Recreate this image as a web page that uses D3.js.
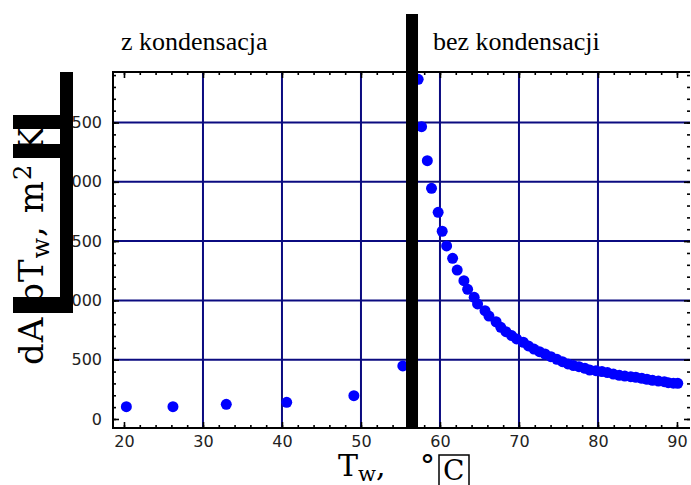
<!DOCTYPE html>
<html>
<head>
<meta charset="utf-8">
<script src="https://cdn.jsdelivr.net/npm/d3@7"></script>
<style>
  body { margin: 0; background: #fff; }
  svg { display: block; }
</style>
</head>
<body>
<div class="chart"></div>
<script>
// data
const condT = [20.3, 26.2, 32.95, 40.6, 49.1, 55.3];
const condA = [104, 104, 124, 141, 197, 447];

const dryT = [57.24, 57.67, 58.4, 58.93, 59.77, 60.28, 60.84, 61.6, 62.18, 63.03,
              63.5, 64.33, 64.76, 65.7, 66.2, 67.1, 67.7, 68.35, 69.07, 69.7,
              70.55, 71.2, 71.9, 72.6, 73.3, 74.05, 74.8, 75.5, 76.2, 76.9,
              77.6, 78.35, 78.95, 79.75, 80.5, 81.2, 81.95, 82.7, 83.4, 84.15,
              84.8, 85.55, 86.2, 86.9, 87.65, 88.4, 88.9, 89.55, 90.1];
const dryA = [2864, 2465, 2178, 1945, 1743, 1583, 1459, 1355, 1256, 1166,
              1093, 1026, 970, 913, 868, 820, 773, 736, 703, 675,
              647, 616, 590, 568, 548, 525, 503, 483, 464, 450,
              441, 427, 413, 407, 400, 391, 379, 368, 362, 357,
              352, 343, 335, 326, 320, 315, 306, 302, 301];

const xTicks = [20, 30, 40, 50, 60, 70, 80, 90];
const yTicks = [0, 500, 1000, 1500, 2000, 2500];
const xGrid = [30, 40, 50, 60, 70, 80];
const yGrid = [500, 1000, 1500, 2000, 2500];
const boundaryT = 56.46;

const labelLeft = "z kondensacja";
const labelRight = "bez kondensacji";

// Mesures
const size = { width: 691, height: 485 };
const plot = { left: 113, right: 690, top: 72, bottom: 428 };

const svg = d3.select(".chart")
              .append("svg")
              .attr("width", size.width)
              .attr("height", size.height);

const x = d3.scaleLinear().domain([18.61, 91.65]).range([plot.left, plot.right]);
const y = d3.scaleLinear().domain([-76, 2926]).range([plot.bottom, plot.top]);

const gridColor = "#0b0b80";

// grid
svg.append("g")
   .selectAll("line")
   .data(xGrid)
   .join("line")
   .attr("x1", (d) => x(d)).attr("x2", (d) => x(d))
   .attr("y1", plot.top).attr("y2", plot.bottom)
   .attr("stroke", gridColor).attr("stroke-width", 2);

svg.append("g")
   .selectAll("line")
   .data(yGrid)
   .join("line")
   .attr("x1", plot.left).attr("x2", plot.right)
   .attr("y1", (d) => y(d)).attr("y2", (d) => y(d))
   .attr("stroke", gridColor).attr("stroke-width", 2);

// axes (ticks pointing inward)
const styleAxis = (g) => {
  g.select(".domain").remove();
  g.selectAll("line").attr("stroke", "#000").attr("stroke-width", 1.6);
  g.selectAll("text")
   .attr("fill", "#222")
   .attr("font-family", "'DejaVu Sans', Verdana, sans-serif")
   .attr("font-size", 16);
};

const xMinor = d3.range(20, 92, 2);
const yMinor = d3.range(0, 2901, 100);

svg.append("g")
   .attr("transform", `translate(0,${plot.bottom})`)
   .call(d3.axisBottom(x).tickValues(xMinor).tickSize(-3).tickFormat(""))
   .call(styleAxis);
svg.append("g")
   .attr("transform", `translate(0,${plot.bottom})`)
   .call(d3.axisBottom(x).tickValues(xTicks).tickSize(-6).tickPadding(8).tickFormat(d3.format("d")))
   .call(styleAxis);
svg.append("g")
   .attr("transform", `translate(0,${plot.top})`)
   .call(d3.axisTop(x).tickValues(xMinor).tickSize(-3).tickFormat(""))
   .call(styleAxis);
svg.append("g")
   .attr("transform", `translate(0,${plot.top})`)
   .call(d3.axisTop(x).tickValues(xTicks).tickSize(-6).tickFormat(""))
   .call(styleAxis);

svg.append("g")
   .attr("transform", `translate(${plot.left},0)`)
   .call(d3.axisLeft(y).tickValues(yMinor).tickSize(-3).tickFormat(""))
   .call(styleAxis);
svg.append("g")
   .attr("transform", `translate(${plot.left},0)`)
   .call(d3.axisLeft(y).tickValues(yTicks).tickSize(-6).tickPadding(11).tickFormat(d3.format("d")))
   .call(styleAxis);
svg.append("g")
   .attr("transform", `translate(${plot.right},0)`)
   .call(d3.axisRight(y).tickValues(yMinor).tickSize(-3).tickFormat(""))
   .call(styleAxis);
svg.append("g")
   .attr("transform", `translate(${plot.right},0)`)
   .call(d3.axisRight(y).tickValues(yTicks).tickSize(-6).tickFormat(""))
   .call(styleAxis);

// frame: left, top, bottom
svg.append("path")
   .attr("d", `M${plot.right},${plot.top}H${plot.left}V${plot.bottom}H${plot.right}`)
   .attr("fill", "none")
   .attr("stroke", "#000")
   .attr("stroke-width", 2);

// points
const pts = condT.map((t, i) => ({ t: t, a: condA[i] }))
  .concat(dryT.map((t, i) => ({ t: t, a: dryA[i] })));

svg.append("g")
   .selectAll("circle")
   .data(pts)
   .join("circle")
   .attr("cx", (d) => x(d.t))
   .attr("cy", (d) => y(d.a))
   .attr("r", 5.5)
   .attr("fill", "#0000ff");

// boundary bar
svg.append("rect")
   .attr("x", x(boundaryT) - 6)
   .attr("y", 14)
   .attr("width", 12)
   .attr("height", plot.bottom - 14)
   .attr("fill", "#000");

// region labels
const serif = "'Liberation Serif', 'Times New Roman', Times, serif";
svg.append("text")
   .attr("x", 121).attr("y", 50)
   .attr("font-family", serif)
   .attr("font-size", 26)
   .text(labelLeft);
svg.append("text")
   .attr("x", 433).attr("y", 50)
   .attr("font-family", serif)
   .attr("font-size", 26)
   .text(labelRight);

// x title
const slab = "'DejaVu Serif', serif";
const xt = svg.append("text")
   .attr("x", 338).attr("y", 476)
   .attr("font-family", slab)
   .attr("font-size", 30);
xt.append("tspan").text("T");
xt.append("tspan").attr("font-size", 21).attr("dy", 5).text("w");
xt.append("tspan").attr("dy", -5).text(",");
svg.append("text")
   .attr("x", 420).attr("y", 476)
   .attr("font-family", slab)
   .attr("font-size", 30)
   .text("°");
svg.append("rect")
   .attr("x", 439).attr("y", 455)
   .attr("width", 30).attr("height", 40)
   .attr("fill", "none")
   .attr("stroke", "#000")
   .attr("stroke-width", 1.5);
svg.append("text")
   .attr("x", 443).attr("y", 480)
   .attr("font-family", slab)
   .attr("font-size", 28)
   .text("C");

// y title
const yt = svg.append("text")
   .attr("transform", "translate(43,365) rotate(-90)")
   .attr("font-family", slab)
   .attr("font-size", 34)
   .attr("letter-spacing", 1);
yt.append("tspan").text("dA bT");
yt.append("tspan").attr("font-size", 24).attr("dy", 6).text("w");
yt.append("tspan").attr("dy", -6).text(", m");
yt.append("tspan").attr("font-size", 24).attr("dy", -12).text("2");
yt.append("tspan").attr("dy", 12).text(" K");

// black blocks over the y title
const blocks = [
  { x: 60, y: plot.top, w: 13, h: 313 - plot.top },
  { x: 13, y: 115, w: 60, h: 14 },
  { x: 13, y: 144, w: 60, h: 14 },
  { x: 13, y: 297, w: 60, h: 16 }
];
svg.append("g")
   .selectAll("rect")
   .data(blocks)
   .join("rect")
   .attr("x", (d) => d.x).attr("y", (d) => d.y)
   .attr("width", (d) => d.w).attr("height", (d) => d.h)
   .attr("fill", "#000");
</script>
</body>
</html>
